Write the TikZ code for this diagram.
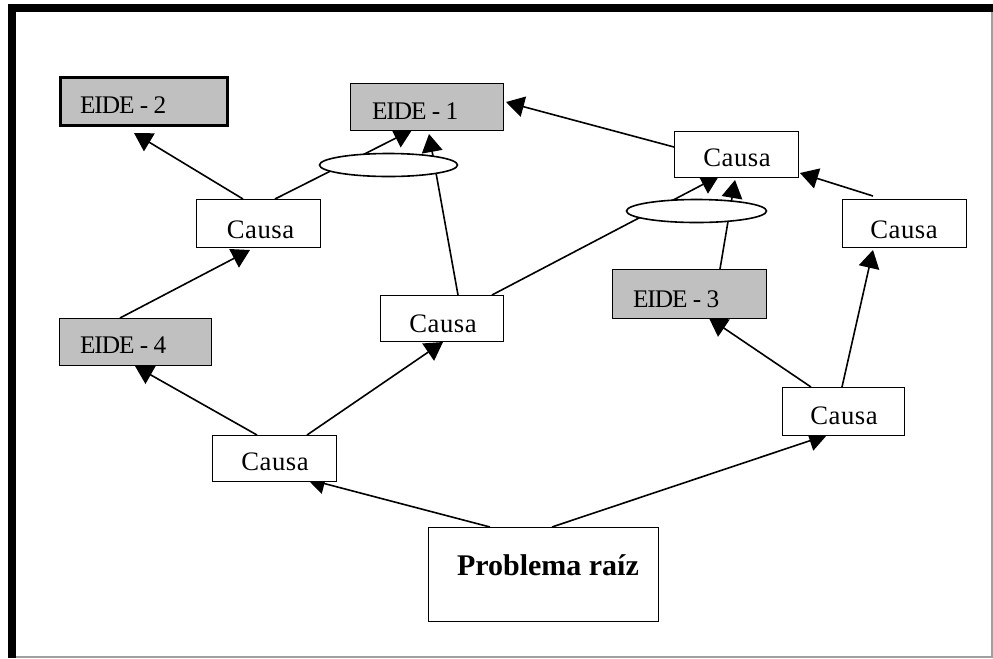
\documentclass[tikz,border=0pt]{standalone}
\usepackage{fontspec}
\setmainfont{Liberation Serif}
\usetikzlibrary{arrows.meta,backgrounds,calc,shapes.geometric}
\definecolor{eidegray}{RGB}{192,192,192}
\definecolor{framegray}{RGB}{160,160,160}
\begin{document}
\begin{tikzpicture}[x=0.75pt,y=-0.75pt,
  every node/.style={inner sep=0pt,outer sep=0pt},
  sz/.style 2 args={minimum width=#1*0.75pt,minimum height=#2*0.75pt},
  causebox/.style={draw,line width=1.2pt,fill=white,rectangle},
  eidebox/.style={draw,line width=1.2pt,fill=eidegray,rectangle},
  junction/.style={draw,line width=1.2pt,fill=white,ellipse},
  causetext/.style={font=\fontsize{20}{20}\selectfont\addfontfeature{LetterSpace=2},anchor=base},
  eidetext/.style={font=\fontsize{19}{19}\selectfont\addfontfeature{LetterSpace=-4},anchor=base west},
  link/.style={line width=1.2pt,-{Triangle[length=13.5pt,width=15.5pt]}}
]
\useasboundingbox (0,0) rectangle (993,658);

% page frame: heavy top and left edges, thin grey right and bottom edges
\fill[black] (8,4) rectangle (993,11.5);
\fill[black] (8,4) rectangle (16,658);
\draw[framegray,line width=1pt] (992,11.5) -- (992,658);
\draw[framegray,line width=1pt] (16,657) -- (993,657);

% effects (EIDE)
\node[eidebox,line width=2.6pt,sz={166.5}{47.5}] (e2) at (144,101.5) {};
\node[eidebox,sz={153}{47}] (e1) at (427,107) {};
\node[eidebox,sz={152}{47}] (e4) at (135.5,342) {};
\node[eidebox,sz={154}{49}] (e3) at (689.5,294) {};

% causes
\node[causebox,sz={124}{48}] (c1) at (258.5,223.5) {};
\node[causebox,sz={123}{46}] (cm) at (442,318.5) {};
\node[causebox,sz={124}{46}] (cll) at (274.5,458.5) {};
\node[causebox,sz={124}{46}] (ctr) at (736.5,154.5) {};
\node[causebox,sz={124}{48}] (cr) at (904.5,223.5) {};
\node[causebox,sz={122}{48}] (clr) at (843.5,411.5) {};

% root problem
\node[causebox,sz={230}{94}] (pr) at (543.5,574.5) {};

% joint-cause junctions
\node[junction,sz={138}{23}] (j1) at (388.5,165) {};
\node[junction,sz={140}{23}] (j2) at (696.5,211) {};

% labels
\node[eidetext] (e2t) at (80,113) {EIDE - 2};
\node[eidetext] (e1t) at (372,119) {EIDE - 1};
\node[eidetext] (e4t) at (80,353) {EIDE - 4};
\node[eidetext] (e3t) at (633,307) {EIDE - 3};
\node[causetext] (c1t) at (260.5,238) {Causa};
\node[causetext] (cmt) at (443,332) {Causa};
\node[causetext] (cllt) at (275,470) {Causa};
\node[causetext] (ctrt) at (737,166) {Causa};
\node[causetext] (crt) at (904,238) {Causa};
\node[causetext] (clrt) at (844,424) {Causa};
\node[font=\fontsize{22.5}{22.5}\selectfont\bfseries,anchor=base west] (prt) at (457,575) {Problema raíz};

% cause-effect links, kept behind the boxes and junctions
\begin{scope}[on background layer]
  \draw[link] ($(c1)+(-15.5,-24.5)$) -- ($(e2)+(-10,31.5)$);
  \draw[link] ($(c1)+(16.5,-24.5)$) -- ($(e1)+(-15,23)$);
  \draw[link] ($(cm)+(16,-23.5)$) -- ($(e1)+(2,27)$);
  \draw[link] ($(cm)+(50,-23.5)$) -- ($(ctr)+(-17.5,21.5)$);
  \draw[link] ($(e3)+(30.5,-25)$) -- ($(ctr)+(-1.5,25.5)$);
  \draw[link] ($(cr)+(-31.5,-27.5)$) -- ($(ctr)+(63.5,18.5)$);
  \draw[link] ($(ctr)+(-62.5,-7.5)$) -- ($(e1)+(79,-5)$);
  \draw[link] ($(clr)+(-32.5,-24.5)$) -- ($(e3)+(19.5,24)$);
  \draw[link] ($(clr)+(-1.5,-24.5)$) -- ($(cr)+(-31.5,26.5)$);
  \draw[link] ($(pr)+(8.5,-47.5)$) -- ($(clr)+(-16.5,23.5)$);
  \draw[link] ($(pr)+(-53.5,-47.5)$) -- ($(cll)+(32.5,20.5)$);
  \draw[link] ($(cll)+(-17.5,-23.5)$) -- ($(e4)+(-0.5,24)$);
  \draw[link] ($(cll)+(32.5,-23.5)$) -- ($(cm)+(1,23.5)$);
  \draw[link] ($(e4)+(-15.5,-24)$) -- ($(c1)+(-8.5,26.5)$);
\end{scope}
\end{tikzpicture}
\end{document}
